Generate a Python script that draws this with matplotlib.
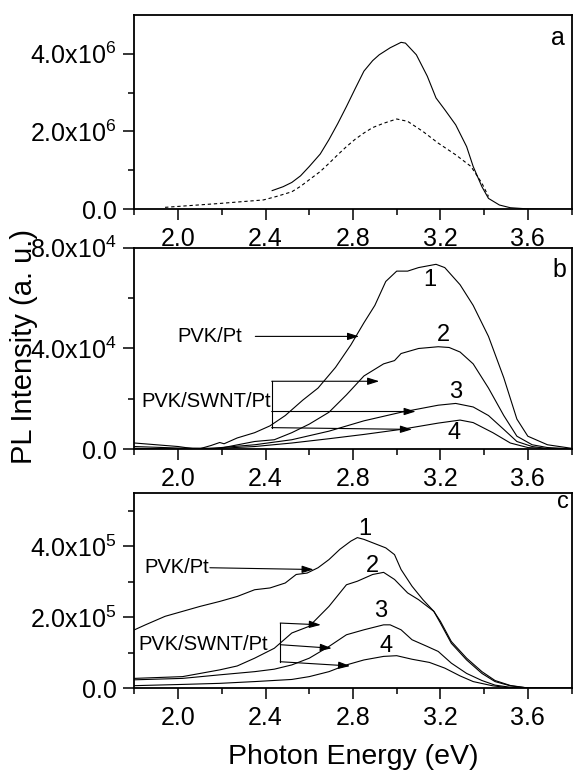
import numpy as np
import matplotlib
matplotlib.use("Agg")
import matplotlib.pyplot as plt

plt.rcParams['font.family'] = ['Liberation Sans', 'DejaVu Sans']
plt.rcParams['mathtext.fontset'] = 'custom'
plt.rcParams['mathtext.rm'] = 'Liberation Sans'
plt.rcParams['mathtext.it'] = 'Liberation Sans:italic'
plt.rcParams['mathtext.bf'] = 'Liberation Sans:bold'

# ---------------- data ----------------
# panel a (units of 1e6)
a_solid_x = [2.43, 2.48, 2.52, 2.56, 2.60, 2.65, 2.69, 2.73, 2.77, 2.81, 2.85, 2.89, 2.92, 2.97, 3.02,
             3.04, 3.09, 3.14, 3.18, 3.22, 3.27, 3.32, 3.35, 3.39, 3.42, 3.47, 3.52, 3.60, 3.70, 3.80]
a_solid_y = [0.48, 0.58, 0.69, 0.86, 1.10, 1.42, 1.79, 2.20, 2.64, 3.10, 3.55, 3.82, 3.97, 4.15, 4.29,
             4.27, 3.97, 3.42, 2.86, 2.56, 2.17, 1.61, 1.10, 0.58, 0.28, 0.11, 0.04, 0.01, 0.0, 0.0]
a_dash_x = [1.94, 2.19, 2.39, 2.45, 2.52, 2.56, 2.60, 2.65, 2.69, 2.73, 2.77, 2.81, 2.85, 2.89, 2.94,
            3.00, 3.05, 3.12, 3.19, 3.27, 3.34, 3.39, 3.42]
a_dash_y = [0.05, 0.15, 0.24, 0.33, 0.45, 0.59, 0.76, 0.97, 1.18, 1.40, 1.61, 1.80, 1.96, 2.10, 2.21,
            2.32, 2.26, 2.00, 1.70, 1.40, 1.10, 0.67, 0.33]

# panel b (units of 1e4)
b1_x = [1.80, 1.90, 2.00, 2.09, 2.15, 2.19, 2.21, 2.27, 2.35, 2.42, 2.49, 2.57, 2.64, 2.72, 2.79, 2.85,
        2.90, 2.95, 3.00, 3.05, 3.10, 3.18, 3.22, 3.29, 3.35, 3.42, 3.49, 3.55, 3.60, 3.69, 3.80]
b1_y = [0.25, 0.18, 0.11, 0.0, 0.15, 0.27, 0.22, 0.45, 0.66, 0.93, 1.34, 1.95, 2.43, 3.25, 4.14, 5.02,
        5.71, 6.66, 7.07, 7.07, 7.21, 7.34, 7.21, 6.53, 5.71, 4.48, 2.84, 1.20, 0.52, 0.18, 0.04]
b2_x = [1.80, 2.00, 2.19, 2.35, 2.44, 2.52, 2.60, 2.69, 2.77, 2.85, 2.94, 2.99, 3.02, 3.10, 3.19, 3.24,
        3.29, 3.35, 3.42, 3.49, 3.55, 3.62, 3.69, 3.80]
b2_y = [0.11, 0.05, 0.04, 0.31, 0.38, 0.66, 1.00, 1.47, 2.16, 2.91, 3.39, 3.52, 3.80, 4.00, 4.07, 4.04,
        3.86, 3.39, 2.43, 1.34, 0.52, 0.18, 0.07, 0.02]
b3_x = [1.80, 2.10, 2.35, 2.52, 2.69, 2.85, 3.02, 3.19, 3.27, 3.35, 3.42, 3.49, 3.55, 3.62, 3.69, 3.80]
b3_y = [0.04, 0.0, 0.18, 0.38, 0.72, 1.13, 1.47, 1.75, 1.82, 1.68, 1.34, 0.79, 0.31, 0.11, 0.03, 0.01]
b4_x = [1.80, 2.10, 2.35, 2.52, 2.69, 2.85, 3.02, 3.19, 3.29, 3.35, 3.44, 3.52, 3.60, 3.70, 3.80]
b4_y = [0.03, 0.0, 0.11, 0.25, 0.42, 0.59, 0.79, 1.04, 1.16, 1.06, 0.66, 0.25, 0.07, 0.02, 0.0]

# panel c (units of 1e5)
c1_x = [1.80, 1.85, 1.94, 2.02, 2.10, 2.19, 2.27, 2.35, 2.42, 2.49, 2.54, 2.59, 2.64, 2.69, 2.74, 2.79,
        2.82, 2.85, 2.90, 2.95, 2.99, 3.02, 3.07, 3.12, 3.17, 3.20, 3.25, 3.32, 3.39, 3.45, 3.52, 3.60,
        3.70, 3.80]
c1_y = [1.65, 1.79, 2.03, 2.17, 2.31, 2.45, 2.59, 2.78, 2.83, 2.97, 3.21, 3.25, 3.40, 3.63, 3.92, 4.15,
        4.25, 4.20, 4.08, 3.96, 3.77, 3.35, 2.88, 2.50, 2.17, 1.84, 1.27, 0.80, 0.42, 0.19, 0.07, 0.01,
        0.0, 0.0]
c2_x = [1.80, 2.02, 2.19, 2.27, 2.35, 2.44, 2.52, 2.60, 2.69, 2.77, 2.82, 2.89, 2.94, 2.99, 3.05, 3.10,
        3.17, 3.20, 3.25, 3.32, 3.39, 3.45, 3.52, 3.60, 3.70, 3.80]
c2_y = [0.28, 0.33, 0.52, 0.63, 0.85, 1.13, 1.56, 1.75, 2.31, 2.92, 3.02, 3.21, 3.27, 3.07, 2.69, 2.50,
        2.17, 1.89, 1.32, 0.85, 0.47, 0.22, 0.08, 0.01, 0.0, 0.0]
c3_x = [1.80, 2.02, 2.19, 2.35, 2.44, 2.52, 2.60, 2.69, 2.77, 2.85, 2.94, 2.97, 3.02, 3.07, 3.14, 3.19,
        3.25, 3.32, 3.39, 3.45, 3.52, 3.60, 3.80]
c3_y = [0.24, 0.28, 0.38, 0.47, 0.54, 0.66, 0.85, 1.18, 1.51, 1.65, 1.79, 1.79, 1.65, 1.37, 1.18, 1.04,
        0.71, 0.42, 0.22, 0.09, 0.03, 0.0, 0.0]
c4_x = [1.80, 2.02, 2.19, 2.35, 2.52, 2.60, 2.69, 2.77, 2.85, 2.94, 3.00, 3.07, 3.15, 3.22, 3.29, 3.35,
        3.44, 3.52, 3.60, 3.80]
c4_y = [0.075, 0.11, 0.14, 0.19, 0.25, 0.33, 0.47, 0.66, 0.80, 0.90, 0.92, 0.82, 0.73, 0.57, 0.35, 0.19,
        0.07, 0.01, 0.0, 0.0]

x_ticks = [2.0, 2.4, 2.8, 3.2, 3.6]
x_tick_labels = ['2.0', '2.4', '2.8', '3.2', '3.6']
x_minor = [1.8, 2.2, 2.6, 3.0, 3.4, 3.8]

a_yticks = [0.0, 2.0, 4.0]
a_ylabels = ['0.0', '2.0x10$^{6}$', '4.0x10$^{6}$']
a_yminor = [1.0, 3.0]
b_yticks = [0.0, 4.0, 8.0]
b_ylabels = ['0.0', '4.0x10$^{4}$', '8.0x10$^{4}$']
b_yminor = [2.0, 6.0]
c_yticks = [0.0, 2.0, 4.0]
c_ylabels = ['0.0', '2.0x10$^{5}$', '4.0x10$^{5}$']
c_yminor = [1.0, 3.0, 5.0]

scale_a, scale_b, scale_c = 1e6, 1e4, 1e5

# ---------------- figure ----------------
fig = plt.figure(figsize=(5.73, 7.74), dpi=100)
left, width = 0.2347, 0.7627
ax_a = fig.add_axes([left, 0.7296, width, 0.2514])
ax_b = fig.add_axes([left, 0.4195, width, 0.2605])
ax_c = fig.add_axes([left, 0.1107, width, 0.2520])

LW = 0.8
TICK_FS = 18
ANN_FS = 14.5
NUM_FS = 17


def style(ax, yticks, ylabels, yminor, scale, ytop):
    ax.set_xlim(1.8, 3.8)
    ax.set_ylim(0, ytop * scale)
    ax.set_xticks(x_ticks)
    ax.set_xticklabels(x_tick_labels)
    ax.set_xticks(x_minor, minor=True)
    ax.set_yticks([v * scale for v in yticks])
    ax.set_yticklabels(ylabels)
    ax.set_yticks([v * scale for v in yminor], minor=True)
    ax.tick_params(which='both', direction='out', labelsize=TICK_FS, width=1.1, colors='black')
    ax.tick_params(which='major', length=8, pad=5)
    ax.tick_params(which='minor', length=4.5)
    for s in ax.spines.values():
        s.set_linewidth(1.3)


def arrow(ax, x0, y0, x1, y1):
    ax.annotate('', xy=(x1, y1), xytext=(x0, y0),
                arrowprops=dict(arrowstyle='-|>,head_length=0.7,head_width=0.22', color='black',
                                lw=LW, shrinkA=0, shrinkB=0))


# panel a
ax_a.plot(a_solid_x, np.array(a_solid_y) * scale_a, color='black', lw=LW)
ax_a.plot(a_dash_x, np.array(a_dash_y) * scale_a, color='black', lw=LW, linestyle=(0, (3, 2.5)))
style(ax_a, a_yticks, a_ylabels, a_yminor, scale_a, 5.0)
ax_a.text(0.968, 0.88, 'a', transform=ax_a.transAxes, fontsize=NUM_FS + 1, ha='center', va='center')

# panel b
for xs, ys in [(b1_x, b1_y), (b2_x, b2_y), (b3_x, b3_y), (b4_x, b4_y)]:
    ax_b.plot(xs, np.array(ys) * scale_b, color='black', lw=LW)
style(ax_b, b_yticks, b_ylabels, b_yminor, scale_b, 8.0)
ax_b.text(0.972, 0.89, 'b', transform=ax_b.transAxes, fontsize=NUM_FS + 1, ha='center', va='center')
for lab, xx, yy in [('1', 3.153, 6.73), ('2', 3.212, 4.55), ('3', 3.27, 2.29), ('4', 3.262, 0.66)]:
    ax_b.text(xx, yy * scale_b, lab, fontsize=NUM_FS, ha='center', va='center')
ax_b.text(1.995, 4.48 * scale_b, 'PVK/Pt', fontsize=ANN_FS, ha='left', va='center')
arrow(ax_b, 2.353, 4.48 * scale_b, 2.828, 4.48 * scale_b)
ax_b.text(1.833, 1.88 * scale_b, 'PVK/SWNT/Pt', fontsize=ANN_FS, ha='left', va='center')
ax_b.plot([2.428, 2.428], [0.86 * scale_b, 2.70 * scale_b], color='black', lw=LW)
arrow(ax_b, 2.428, 2.70 * scale_b, 2.92, 2.70 * scale_b)
arrow(ax_b, 2.428, 1.50 * scale_b, 3.087, 1.50 * scale_b)
arrow(ax_b, 2.428, 0.86 * scale_b, 3.07, 0.79 * scale_b)

# panel c
for xs, ys in [(c1_x, c1_y), (c2_x, c2_y), (c3_x, c3_y), (c4_x, c4_y)]:
    ax_c.plot(xs, np.array(ys) * scale_c, color='black', lw=LW)
style(ax_c, c_yticks, c_ylabels, c_yminor, scale_c, 5.5)
ax_c.text(0.981, 0.953, 'c', transform=ax_c.transAxes, fontsize=NUM_FS, ha='center', va='center')
for lab, xx, yy in [('1', 2.853, 4.48), ('2', 2.887, 3.44), ('3', 2.928, 2.17), ('4', 2.953, 1.18)]:
    ax_c.text(xx, yy * scale_c, lab, fontsize=NUM_FS, ha='center', va='center')
ax_c.text(1.845, 3.40 * scale_c, 'PVK/Pt', fontsize=ANN_FS, ha='left', va='center')
arrow(ax_c, 2.145, 3.40 * scale_c, 2.62, 3.35 * scale_c)
ax_c.text(1.82, 1.23 * scale_c, 'PVK/SWNT/Pt', fontsize=ANN_FS, ha='left', va='center')
ax_c.plot([2.467, 2.467], [0.75 * scale_c, 1.84 * scale_c], color='black', lw=LW)
arrow(ax_c, 2.467, 1.84 * scale_c, 2.653, 1.79 * scale_c)
arrow(ax_c, 2.467, 1.23 * scale_c, 2.703, 1.13 * scale_c)
arrow(ax_c, 2.467, 0.75 * scale_c, 2.787, 0.63 * scale_c)

ax_c.set_xlabel('Photon Energy (eV)', fontsize=20.5, labelpad=10)
fig.text(0.042, 0.552, 'PL Intensity (a. u.)', rotation=90, ha='center', va='center', fontsize=21)

fig.savefig('out.png', dpi=100)
